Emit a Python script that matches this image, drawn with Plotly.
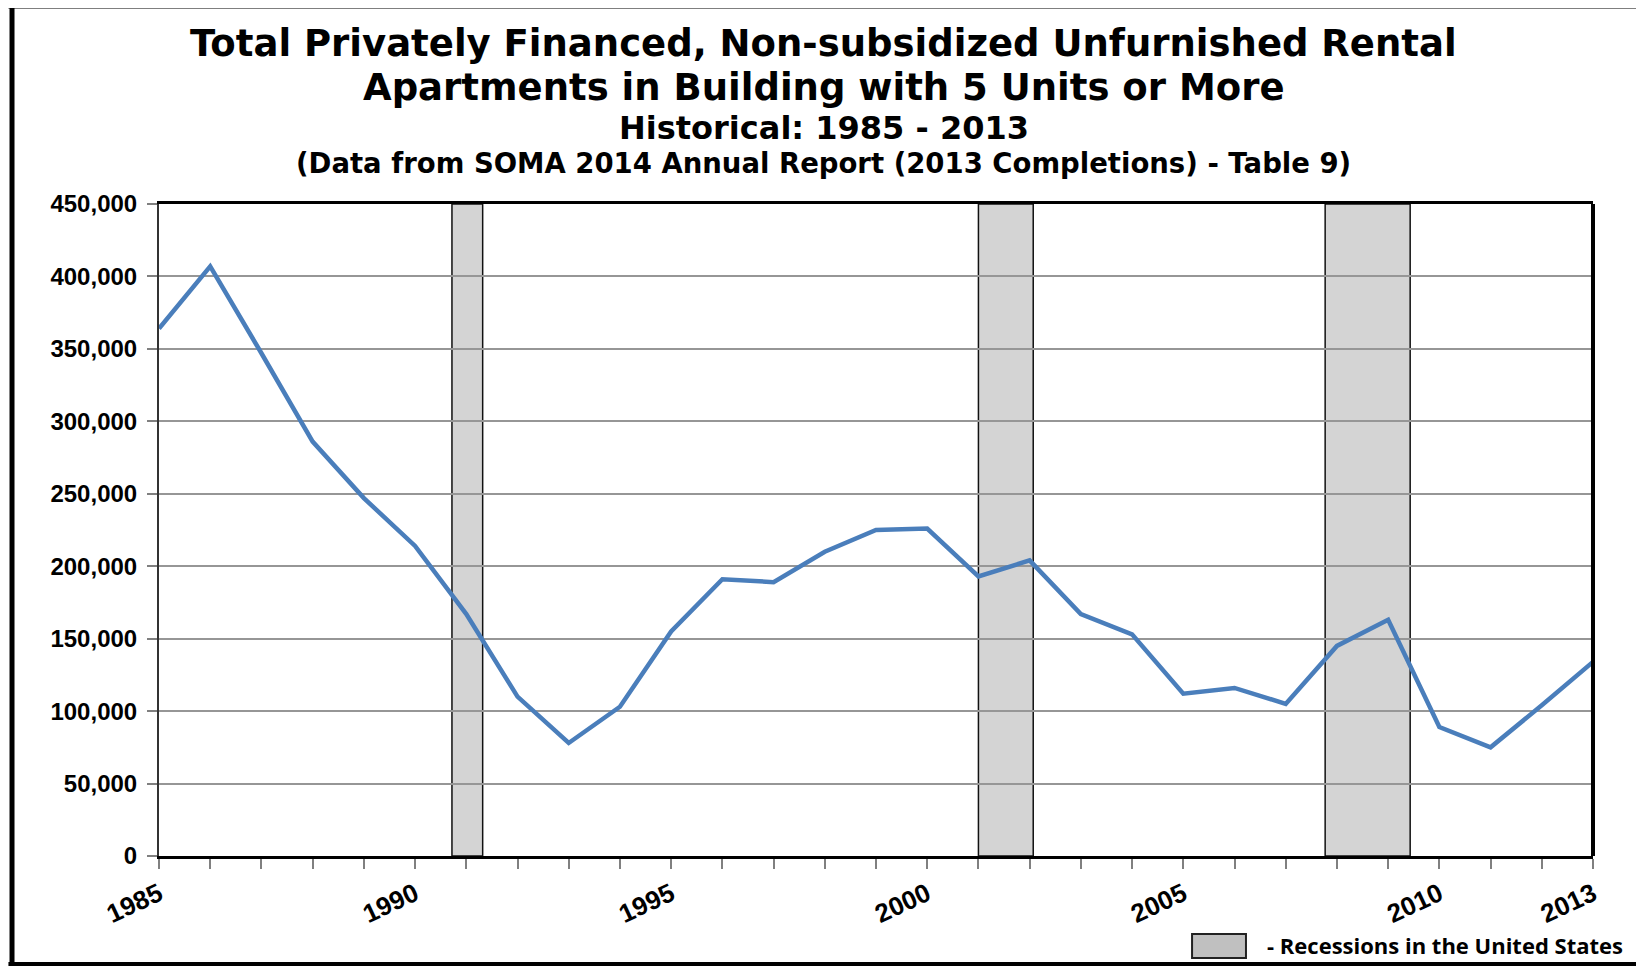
import plotly.graph_objects as go

years = list(range(1985, 2014))
units = [364000, 407000, 347000, 286000, 247000, 214000, 167000, 110000, 78000,
         103000, 155000, 191000, 189000, 210000, 225000, 226000, 193000, 204000,
         167000, 153000, 112000, 116000, 105000, 145000, 163000, 89000, 75000,
         104000, 134000]

recession_start = [1990.72, 2001.0, 2007.77]
recession_end = [1991.32, 2002.07, 2009.43]

labeled_years = [1985, 1990, 1995, 2000, 2005, 2010, 2013]
y_ticks = list(range(0, 450001, 50000))

title_lines = [
    "Total Privately Financed, Non-subsidized Unfurnished Rental",
    "Apartments in Building with 5 Units or More",
    "Historical: 1985 - 2013",
    "(Data from SOMA 2014 Annual Report (2013 Completions) - Table 9)",
]
legend_text = "- Recessions in the United States"

FONT = "Liberation Sans, Arial, sans-serif"
TFONT = "DejaVu Sans, sans-serif"

fig = go.Figure()
fig.add_trace(go.Scatter(
    x=years, y=units, mode="lines",
    line=dict(color="#4A7EBB", width=4.5),
    showlegend=False, hoverinfo="x+y",
))

shapes = []
for s, e in zip(recession_start, recession_end):
    shapes.append(dict(type="rect", xref="x", yref="paper", x0=s, x1=e, y0=0, y1=1,
                       fillcolor="#D4D4D4", line=dict(color="#111111", width=1.5),
                       layer="below"))
# right plot edge (thick)
shapes.append(dict(type="line", xref="paper", yref="paper", x0=1, x1=1, y0=0, y1=1,
                   line=dict(color="black", width=4)))
# outer frame of the image
shapes.append(dict(type="line", xref="paper", yref="paper", x0=-0.1025, x1=-0.1025,
                   y0=-0.17, y1=1.31, line=dict(color="black", width=5)))
shapes.append(dict(type="line", xref="paper", yref="paper", x0=-0.105, x1=1.12,
                   y0=1.3037, y1=1.3037, line=dict(color="black", width=5)))
shapes.append(dict(type="line", xref="paper", yref="paper", x0=-0.105, x1=1.12,
                   y0=-0.1655, y1=-0.1655, line=dict(color="black", width=4)))
# legend swatch
shapes.append(dict(type="rect", xref="paper", yref="paper", x0=0.7204, x1=0.758,
                   y0=-0.1564, y1=-0.1196, fillcolor="#C0C0C0",
                   line=dict(color="#222222", width=2)))

annotations = []
title_y = [1.2454, 1.1794, 1.1173, 1.0629]
title_size = [37, 37, 32, 27.5]
for t, yy, sz in zip(title_lines, title_y, title_size):
    annotations.append(dict(text=t, xref="paper", yref="paper", x=0.4637, y=yy,
                            xanchor="center", yanchor="middle", showarrow=False,
                            font=dict(family=TFONT, size=sz, color="black", weight="bold")))
annotations.append(dict(text=legend_text, xref="paper", yref="paper", x=0.7713, y=-0.1365,
                        xanchor="left", yanchor="middle", showarrow=False,
                        font=dict(family="Open Sans, sans-serif", size=22,
                                  color="black", weight="bold")))

fig.update_layout(
    width=1644, height=966,
    margin=dict(l=151, r=59, t=196, b=118),
    paper_bgcolor="white", plot_bgcolor="rgba(0,0,0,0)",
    shapes=shapes, annotations=annotations,
    xaxis=dict(range=[1985, 2013], tickvals=years,
               ticktext=[str(y) if y in labeled_years else "" for y in years],
               tickangle=-25, ticks="outside", ticklen=10, tickwidth=2,
               tickcolor="#808080", showgrid=False, zeroline=False,
               showline=True, linewidth=3, linecolor="black", mirror=True,
               tickfont=dict(family=FONT, size=26, color="black", weight="bold")),
    yaxis=dict(range=[0, 450000], tickvals=y_ticks,
               ticktext=[f"{v:,}" for v in y_ticks],
               ticks="outside", ticklen=10, tickwidth=2, tickcolor="#808080",
               ticklabelstandoff=5,
               showgrid=True, gridcolor="#969696", gridwidth=1.5, zeroline=False,
               showline=True, linewidth=2, linecolor="#333333",
               tickfont=dict(family=FONT, size=24, color="black", weight="bold")),
)

fig.write_html("out.html")
